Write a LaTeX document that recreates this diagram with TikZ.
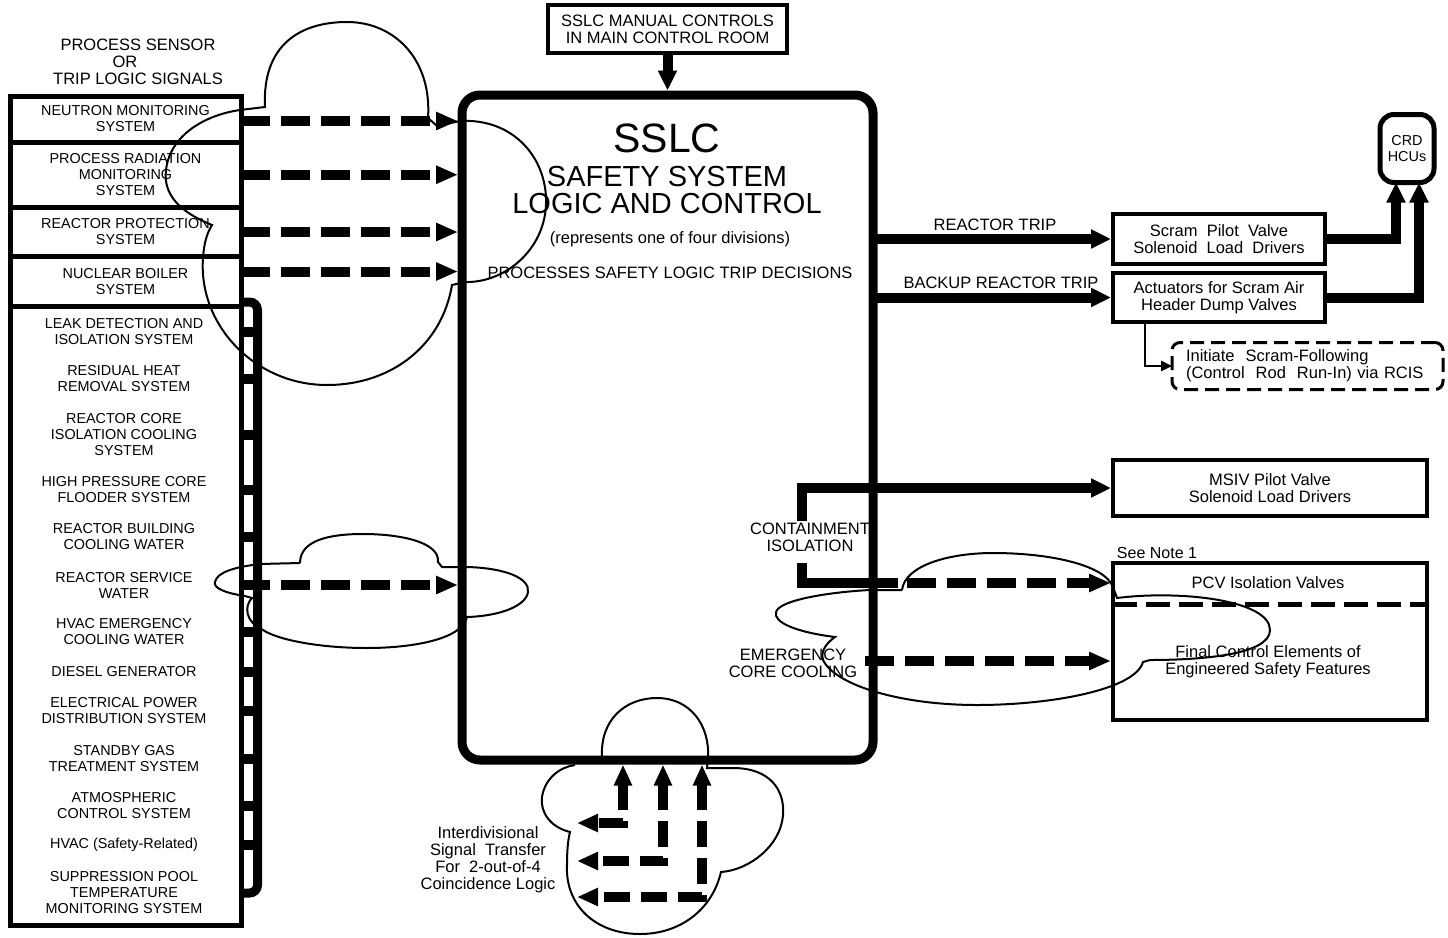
\documentclass[tikz,border=0pt]{standalone}
\usepackage{fontspec}
\setmainfont{Liberation Sans}
\usetikzlibrary{positioning,calc,arrows.meta}

\newcommand\itemfont{\fontsize{14.4}{16}\selectfont}
\newcommand\lblfont{\fontsize{16.5}{17}\selectfont}

\begin{document}
\begin{tikzpicture}
    [x=1pt, y=-1pt,
     sysbox/.style={draw, line width=5pt, outer sep=0pt, minimum width=231pt,
                    align=center, font=\itemfont},
     item/.style={align=center, inner sep=0pt, font=\itemfont},
     lbl/.style={align=center, inner sep=0pt, font=\lblfont},
     outbox/.style={draw, line width=4pt, outer sep=0pt, align=center,
                    inner sep=0pt, font=\lblfont},
     main/.style={line width=10pt, -{Triangle[length=20pt,width=18pt]}},
     sig/.style={line width=10pt, dash pattern=on 29pt off 11pt,
                 -{Triangle[length=22pt,width=17pt]}, shorten >=4pt},
     xsig/.style={line width=10pt, dash pattern=on 26pt off 11pt,
                  {Triangle[length=21pt,width=17pt]}-{Triangle[length=21pt,width=17pt]}},
     stub/.style={line width=10pt},
     cloudline/.style={line width=2pt}]
    \useasboundingbox (0,0) rectangle (1448,937);

    % sensor and trip logic inputs
    \node[lbl] (head) at (138,62) {PROCESS SENSOR\\\hspace*{-26pt}OR\\TRIP LOGIC SIGNALS};
    \node[sysbox, minimum height=46pt] (nms) at (125.5,119) {NEUTRON MONITORING\\SYSTEM};
    \node[sysbox, minimum height=65.5pt, below=0pt of nms] (prm) {PROCESS RADIATION\\MONITORING\\SYSTEM};
    \node[sysbox, minimum height=49pt, below=0pt of prm] (rps) {REACTOR PROTECTION\\SYSTEM};
    \node[sysbox, minimum height=50pt, below=0pt of rps] (nbs) {NUCLEAR BOILER\\SYSTEM};
    \node[sysbox, minimum height=618.5pt, below=0pt of nbs] (aux) {};

    \node[item] (leak) at (124,332) {LEAK DETECTION AND\\ISOLATION SYSTEM};
    \node[item] (rhr) at (124,379) {RESIDUAL HEAT\\REMOVAL SYSTEM};
    \node[item] (rcic) at (124,435) {REACTOR CORE\\ISOLATION COOLING\\SYSTEM};
    \node[item] (hpcf) at (124,490) {HIGH PRESSURE CORE\\FLOODER SYSTEM};
    \node[item] (rbcw) at (124,537) {REACTOR BUILDING\\COOLING WATER};
    \node[item] (rsw) at (124,585) {REACTOR SERVICE\\WATER};
    \node[item] (hecw) at (124,632) {HVAC EMERGENCY\\COOLING WATER};
    \node[item] (dg) at (124,672) {DIESEL GENERATOR};
    \node[item] (epd) at (124,711) {ELECTRICAL POWER\\DISTRIBUTION SYSTEM};
    \node[item] (sgt) at (124,758.5) {STANDBY GAS\\TREATMENT SYSTEM};
    \node[item] (acs) at (124,806) {ATMOSPHERIC\\CONTROL SYSTEM};
    \node[item] (hvac) at (124,845) {HVAC (Safety-Related)};
    \node[item] (sptm) at (124,893) {SUPPRESSION POOL\\TEMPERATURE\\MONITORING SYSTEM};

    % bus of the auxiliary systems
    \coordinate (bus) at (257.5,302);
    \draw[stub, line width=9pt, rounded corners=8pt]
        (bus -| aux.east) -- (bus) -- (bus |- sptm) -- (sptm -| aux.east);
    \foreach \s in {leak,rhr,rcic,hpcf,rbcw,rsw,hecw,dg,epd,sgt,acs,hvac}
        \draw[stub] (\s -| aux.east) -- (\s -| bus);

    % logic cabinet
    \node[draw, line width=9pt, rounded corners=18pt, outer sep=0pt,
          minimum width=411pt, minimum height=665pt] (sslc) at (667.5,427.5) {};
    \node[inner sep=0pt, font=\fontsize{41}{41}\selectfont] (sslcname) at (667,138) {SSLC};
    \node[inner sep=0pt, align=center, font=\fontsize{29}{27}\selectfont]
        (sslctitle) at (667,190.5) {SAFETY SYSTEM\\LOGIC AND CONTROL};
    \node[lbl] (division) at (670,239) {(represents one of four divisions)};
    \node[lbl] (decide) at (670,273) {PROCESSES SAFETY LOGIC TRIP DECISIONS};

    \node[outbox, line width=3.5pt, minimum width=239pt, minimum height=48pt]
        (manual) at (667.5,29) {SSLC MANUAL CONTROLS\\IN MAIN CONTROL ROOM};
    \draw[main, shorten >=4.5pt] (manual) -- (sslc);

    \draw[sig] ($(nms.east)+(0,2)$) -- ($(nms.east -| sslc.west)+(0,2)$);
    \draw[sig] (prm.east) -- (prm.east -| sslc.west);
    \draw[sig] (rps.east) -- (rps.east -| sslc.west);
    \draw[sig] ($(nbs.east)+(0,-10)$) -- ($(nbs.east -| sslc.west)+(0,-10)$);
    \draw[sig] (rsw -| aux.east) -- (rsw -| sslc.west);

    % scram outputs
    \node[outbox, minimum width=212pt, minimum height=50pt] (scram) at (1219,239)
        {Scram\ \ Pilot\ \ Valve\\Solenoid\ \ Load\ \ Drivers};
    \node[outbox, minimum width=212pt, minimum height=49pt] (airdump) at (1219,297.5)
        {Actuators for Scram Air\\Header Dump Valves};
    \node[outbox, line width=5pt, rounded corners=14pt, minimum width=54pt,
          minimum height=68pt, font=\itemfont] (crd) at (1407,148.5) {CRD\\HCUs};
    \node[draw, line width=3pt, dash pattern=on 14pt off 7pt, rounded corners=8pt,
          outer sep=0pt, text width=243pt, inner xsep=14pt, minimum height=47pt,
          align=left, font=\lblfont] (rcis) at (1307.5,366)
        {Initiate\ \ Scram-Following\\(Control\ \ Rod\ \ Run-In) via RCIS};

    \node[lbl] (rtlabel) at (995,225) {REACTOR TRIP};
    \node[lbl] (brtlabel) at (1001,283) {BACKUP REACTOR TRIP};
    \draw[main, shorten >=2pt] (scram.west -| sslc.east) -- (scram.west);
    \draw[main, shorten >=2pt] (airdump.west -| sslc.east) -- (airdump.west);
    \draw[main] (scram.east) -| ($(crd.south)+(-11,0)$);
    \draw[main] (airdump.east) -| ($(crd.south)+(12,0)$);
    \draw[line width=2.5pt, -{Triangle[length=11pt,width=10pt]}]
        ($(airdump.south west)+(32,0)$) |- (rcis.west);

    % isolation and core cooling outputs
    \node[outbox, minimum width=314pt, minimum height=56pt] (msiv) at (1270,488)
        {MSIV Pilot Valve\\Solenoid Load Drivers};
    \node[outbox, minimum width=314pt, minimum height=157pt] (pcv) at (1270,641.5) {};
    \node[lbl] (pcvtext) at (1268,583) {PCV Isolation Valves};
    \node[lbl] (esf) at (1268,662) {Final Control Elements of\\Engineered Safety Features};
    \node[lbl, font=\fontsize{16}{17}\selectfont] (note) at (1157,553) {See Note 1};
    \draw[line width=5pt, dash pattern=on 24pt off 9pt]
        ($(pcv.north west)+(0,41)$) -- ($(pcv.north east)+(0,41)$);

    \node[lbl] (cilabel) at (810,537) {CONTAINMENT\\ISOLATION};
    \node[lbl] (ecclabel) at (793,663) {EMERGENCY\\CORE COOLING};
    \coordinate (ciup) at (802,521);
    \coordinate (cidown) at (802,563);
    \coordinate (cidash) at (907,583);
    \coordinate (eccout) at (865,661);
    \draw[main, shorten >=2pt] (ciup) |- (msiv.west);
    \draw[line width=10pt] (cidown) |- ($(cidash)+(-9,0)$);
    \draw[sig, shorten >=2pt] (cidash) -- (cidash -| pcv.west);
    \draw[sig, shorten >=2pt] (eccout) -- (eccout -| pcv.west);

    % interdivisional transfer
    \coordinate (ida) at (577,823);
    \coordinate (idb) at (577,861);
    \coordinate (idc) at (577,897);
    \draw[xsig] ($(sslc.south)+(-44.5,4.5)$) |- (ida);
    \draw[xsig] ($(sslc.south)+(-4.5,4.5)$) |- (idb);
    \draw[xsig] ($(sslc.south)+(34.5,4.5)$) |- (idc);
    \node[lbl] (xdiv) at (488,860)
        {Interdivisional\\Signal\ \ Transfer\\For\ \ 2-out-of-4\\Coincidence Logic};

    % clouds
    \draw[cloudline] (240,110) -- (265,107)
        .. controls (262,45) and (300,22) .. (347,22)
        .. controls (395,22) and (432,60) .. (428,118) -- (437,126) -- (460,121)
        .. controls (515,118) and (548,160) .. (546,205)
        .. controls (544,250) and (505,283) .. (465,282) -- (452,285)
        .. controls (442,345) and (392,385) .. (327,385)
        .. controls (255,385) and (198,325) .. (203,258)
        .. controls (204,243) and (207,233) .. (212,225)
        .. controls (180,212) and (163,195) .. (166,170)
        .. controls (170,135) and (205,115) .. (240,110);
    \draw[cloudline] (300,563)
        .. controls (300,540) and (330,534) .. (363,534)
        .. controls (400,534) and (440,542) .. (438,562) -- (442,567) -- (467,567)
        .. controls (505,568) and (530,578) .. (528,592)
        .. controls (526,606) and (500,616) .. (467,617)
        .. controls (462,640) and (410,648) .. (367,648)
        .. controls (320,648) and (278,640) .. (263,630)
        .. controls (245,622) and (244,606) .. (252,598) -- (245,596)
        .. controls (225,593) and (213,588) .. (215,582)
        .. controls (217,572) and (235,567) .. (260,564) -- (300,563);
    \draw[cloudline] (902,590)
        .. controls (905,565) and (950,553) .. (993,553)
        .. controls (1050,553) and (1105,565) .. (1113,587) -- (1117,598)
        .. controls (1180,590) and (1270,600) .. (1270,630)
        .. controls (1270,655) and (1200,660) .. (1150,660) -- (1143,662)
        .. controls (1135,690) and (1050,705) .. (977,705)
        .. controls (900,705) and (835,685) .. (823,660)
        .. controls (820,650) and (828,642) .. (835,637)
        .. controls (795,632) and (773,622) .. (776,612)
        .. controls (779,600) and (830,592) .. (870,590) -- (902,590);
    \draw[cloudline] (602,757)
        .. controls (600,720) and (625,698) .. (657,698)
        .. controls (690,698) and (710,725) .. (708,758) -- (707,768) -- (733,768)
        .. controls (770,768) and (785,790) .. (783,815)
        .. controls (781,845) and (750,870) .. (721,872)
        .. controls (712,910) and (680,934) .. (640,934)
        .. controls (595,934) and (565,905) .. (567,865)
        .. controls (567,850) and (568,840) .. (570,832)
        .. controls (550,827) and (540,812) .. (542,797)
        .. controls (545,778) and (560,767) .. (575,765);
\end{tikzpicture}
\end{document}
